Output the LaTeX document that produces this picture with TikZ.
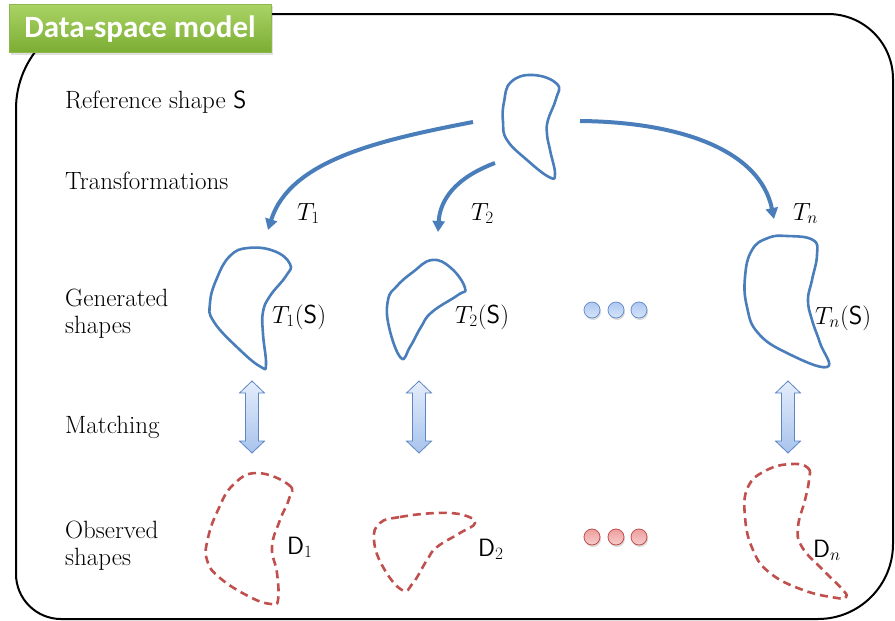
\documentclass[tikz,border=0pt]{standalone}
\usepackage{fontspec}
\newfontfamily\tagfont{Carlito}
\usetikzlibrary{arrows.meta}
\definecolor{blobblue}{HTML}{4A7EBB}
\definecolor{obsred}{HTML}{C0504D}
\definecolor{dotblueline}{HTML}{6A90CC}
\definecolor{dotbluetop}{HTML}{AFC8F1}
\definecolor{dotbluebot}{HTML}{D6E4FA}
\definecolor{dotredline}{HTML}{C0504D}
\definecolor{dotredtop}{HTML}{EE9E9E}
\definecolor{dotredbot}{HTML}{F8CCCC}
\definecolor{dblline}{HTML}{5E86C4}
\definecolor{dbltop}{HTML}{E4EDFB}
\definecolor{dblbot}{HTML}{A8C3EC}
\definecolor{tagtop}{HTML}{AAD466}
\definecolor{tagbot}{HTML}{7CAD34}
\definecolor{tagline}{HTML}{8CBA4A}
\tikzset{
  lbl/.style={anchor=base west, inner sep=0pt, font=\fontsize{25}{29}\selectfont},
  shapelbl/.style={anchor=base west, inner sep=0pt, font=\fontsize{26}{30}\selectfont},
  dlbl/.style={anchor=base west, inner sep=0pt, font=\fontsize{25}{29}\selectfont},
  genblob/.style={draw=blobblue, line width=2.6pt, line join=round},
  obsblob/.style={draw=obsred, line width=2.6pt, dash pattern=on 8pt off 5pt},
  tarrow/.style={draw=blobblue, line width=4pt, -{Triangle[width=12pt,length=11pt]}},
  dotshadow/.style={circle, minimum size=16pt, inner sep=0pt, fill=black, opacity=0.15},
  bluedot/.style={circle, minimum size=16pt, inner sep=0pt, draw=dotblueline, line width=0.8pt, top color=dotbluetop, bottom color=dotbluebot},
  reddot/.style={circle, minimum size=16pt, inner sep=0pt, draw=dotredline, line width=0.8pt, top color=dotredtop, bottom color=dotredbot},
  dblarrow/.pic={
    \path[draw=dblline, line width=0.8pt, top color=dbltop, bottom color=dblbot, line join=miter]
      (0,-36) -- (12.5,-24) -- (6.5,-24) -- (6.5,24) -- (12.5,24) -- (0,36)
      -- (-12.5,24) -- (-6.5,24) -- (-6.5,-24) -- (-12.5,-24) -- cycle;
  }
}
\begin{document}
\begin{tikzpicture}[x=1pt,y=-1pt]
\useasboundingbox (0,0) rectangle (895,621);

% outer frame
\draw[line width=2pt, black]
  (16,109) .. controls (16,56.6) and (58.6,14) .. (111,14)
  -- (828,14) .. controls (863.9,14) and (893,43.1) .. (893,79)
  -- (893,544) .. controls (893,585.4) and (859.4,619) .. (818,619)
  -- (61,619) .. controls (36.2,619) and (16,598.8) .. (16,574) -- cycle;

% title tag
\fill[black, opacity=0.12] (11,6) rectangle (273,55);
\path[draw=tagline, line width=0.8pt, top color=tagtop, bottom color=tagbot] (9,4) rectangle (271,52);
\node[text=white, inner sep=0pt, font=\tagfont\bfseries\fontsize{31}{34}\selectfont] (title) at (140,29) {Data-space model};

% row labels
\node[lbl] (lref) at (65,108) {Reference shape $\mathsf{S}$};
\node[lbl] (ltrans) at (65,189) {Transformations};
\node[lbl] (lgen1) at (65,306) {Generated};
\node[lbl] (lgen2) at (65,333) {shapes};
\node[lbl] (lmatch) at (65,433) {Matching};
\node[lbl] (lobs1) at (65,538) {Observed};
\node[lbl] (lobs2) at (65,565) {shapes};

% reference shape
\draw[genblob] plot[smooth cycle, tension=0.75] coordinates {
  (533,75) (557,84) (556,99) (548,120) (547,134) (550,150) (555,174) (549,177)
  (527,160) (507,140) (503,122) (504,102) (511,82)};

% generated shapes
\draw[genblob] plot[smooth cycle, tension=0.75] coordinates {
  (248,248) (274,251) (290,264) (286,276) (270,296) (263,312) (263,334) (266,364) (261,367)
  (240,350) (214,322) (210,303) (217,278) (230,256)};
\draw[genblob] plot[smooth cycle, tension=0.75] coordinates {
  (432,260) (451,268) (465,288) (458,295) (432,312) (421,327) (410,347) (401,358)
  (389,327) (388,300) (397,286) (413,272)};
\draw[genblob] plot[smooth cycle, tension=0.75] coordinates {
  (787,236) (813,240) (817,255) (812,280) (808,300) (812,320) (820,343) (827,367)
  (787,353) (758,333) (747,307) (745,277) (752,250) (768,238)};

% transformation arrows
\coordinate (s1) at (473,122);
\coordinate (e1) at (268,230);
\coordinate (s2) at (495,163);
\coordinate (e2) at (438,232);
\coordinate (sn) at (580,121);
\coordinate (en) at (774,219);
\draw[tarrow] (s1) .. controls (380,140) and (290,160) .. (e1);
\draw[tarrow] (s2) .. controls (455,178) and (440,200) .. (e2);
\draw[tarrow] (sn) .. controls (680,122) and (760,150) .. (en);
\node[shapelbl] (t1) at (297,220) {$T_1$};
\node[shapelbl] (t2) at (471,220) {$T_2$};
\node[shapelbl] (tn) at (793,220) {$T_n$};

% generated labels
\node[shapelbl] (g1) at (272,323) {$T_1(\mathsf{S})$};
\node[shapelbl] (g2) at (455,323) {$T_2(\mathsf{S})$};
\node[shapelbl] (gn) at (815,324) {$T_n(\mathsf{S})$};

% dots
\foreach \x in {592,616,639} {
  \node[dotshadow] at (\x+1,312) {};
  \node[dotshadow] at (\x+1,539) {};
}
\node[bluedot] (b1) at (592,310) {};
\node[bluedot] (b2) at (616,310) {};
\node[bluedot] (b3) at (639,310) {};
\node[reddot] (r1) at (592,537) {};
\node[reddot] (r2) at (616,537) {};
\node[reddot] (r3) at (639,537) {};

% matching arrows
\pic at (252,417) {dblarrow};
\pic at (419,417) {dblarrow};
\pic at (788,417) {dblarrow};

% observed shapes
\draw[obsblob] plot[smooth cycle, tension=0.75] coordinates {
  (257,473) (289,485) (289,499) (280,520) (272,547) (277,573) (278,600) (271,604)
  (250,597) (220,578) (207,560) (208,538) (218,510) (233,485)};
\draw[obsblob] plot[smooth cycle, tension=0.75] coordinates {
  (380,523) (400,517) (437,513) (463,515) (475,523) (460,533) (437,547) (427,560) (413,583)
  (402,590) (383,567) (374,540)};
\draw[obsblob] plot[smooth cycle, tension=0.75] coordinates {
  (792,464) (808,468) (809,480) (805,500) (798,527) (802,547) (823,570) (843,590) (846,597)
  (837,598) (803,590) (770,573) (753,550) (745,517) (748,487) (767,470)};

\node[dlbl] (d1) at (287,554) {$\mathsf{D}_1$};
\node[dlbl] (d2) at (478,556) {$\mathsf{D}_2$};
\node[dlbl] (dn) at (813,557) {$\mathsf{D}_n$};
\end{tikzpicture}
\end{document}
